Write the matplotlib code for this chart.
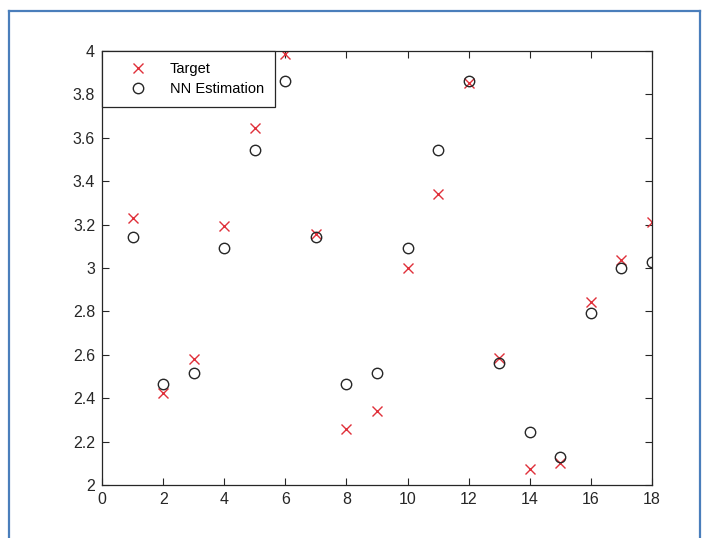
import matplotlib

matplotlib.use("Agg")
import matplotlib.pyplot as plt
from matplotlib.lines import Line2D

# sample index and values
sample = list(range(1, 19))
target = [3.229, 2.422, 2.582, 3.192, 3.644, 3.986, 3.158, 2.260, 2.343,
          3.001, 3.339, 3.851, 2.584, 2.075, 2.103, 2.845, 3.037, 3.212]
nn_estimation = [3.141, 2.464, 2.518, 3.094, 3.544, 3.863, 3.142, 2.465, 2.518,
                 3.094, 3.544, 3.863, 2.564, 2.243, 2.131, 2.791, 2.999, 3.028]

x_ticks = list(range(0, 19, 2))
y_ticks = [2, 2.2, 2.4, 2.6, 2.8, 3, 3.2, 3.4, 3.6, 3.8, 4]
y_labels = ["2", "2.2", "2.4", "2.6", "2.8", "3", "3.2", "3.4", "3.6", "3.8", "4"]

plt.rcParams["font.family"] = ["Liberation Sans", "DejaVu Sans"]

fig = plt.figure(figsize=(7.08, 5.38), dpi=100, facecolor="white")
ax = fig.add_axes([0.1441, 0.0985, 0.7768, 0.8067])

ax.plot(sample, target, linestyle="none", marker="x", color="#e0303a",
        markersize=6.5, markeredgewidth=1.0, label="Target")
ax.plot(sample, nn_estimation, linestyle="none", marker="o", color="#262626",
        markerfacecolor="none", markersize=7.5, markeredgewidth=1.0,
        label="NN Estimation")

ax.set_xlim(0, 18)
ax.set_ylim(2, 4)
ax.set_xticks(x_ticks)
ax.set_yticks(y_ticks)
ax.set_yticklabels(y_labels)
ax.tick_params(direction="in", length=5, width=0.8, top=True, right=True,
               labelsize=11.5, colors="#262626", pad=5)
for spine in ax.spines.values():
    spine.set_color("#262626")
    spine.set_linewidth(0.9)

leg = ax.legend(loc="upper left", borderaxespad=0, fancybox=False,
                framealpha=1, edgecolor="#262626", fontsize=10.5,
                borderpad=0.75, handlelength=3.5, handletextpad=0.4,
                labelspacing=0.4)
leg.get_frame().set_linewidth(0.9)

# blue page frame around the figure
frame_color = "#4a7ebb"
fig.add_artist(Line2D([0.0134, 0.0134], [0.0, 0.9796], color=frame_color,
                      linewidth=1.6, transform=fig.transFigure))
fig.add_artist(Line2D([0.0134, 0.9887], [0.9796, 0.9796], color=frame_color,
                      linewidth=1.6, transform=fig.transFigure))
fig.add_artist(Line2D([0.9887, 0.9887], [0.0, 0.9796], color=frame_color,
                      linewidth=1.6, transform=fig.transFigure))

fig.savefig("out.png", dpi=100, facecolor="white")
plt.close(fig)
